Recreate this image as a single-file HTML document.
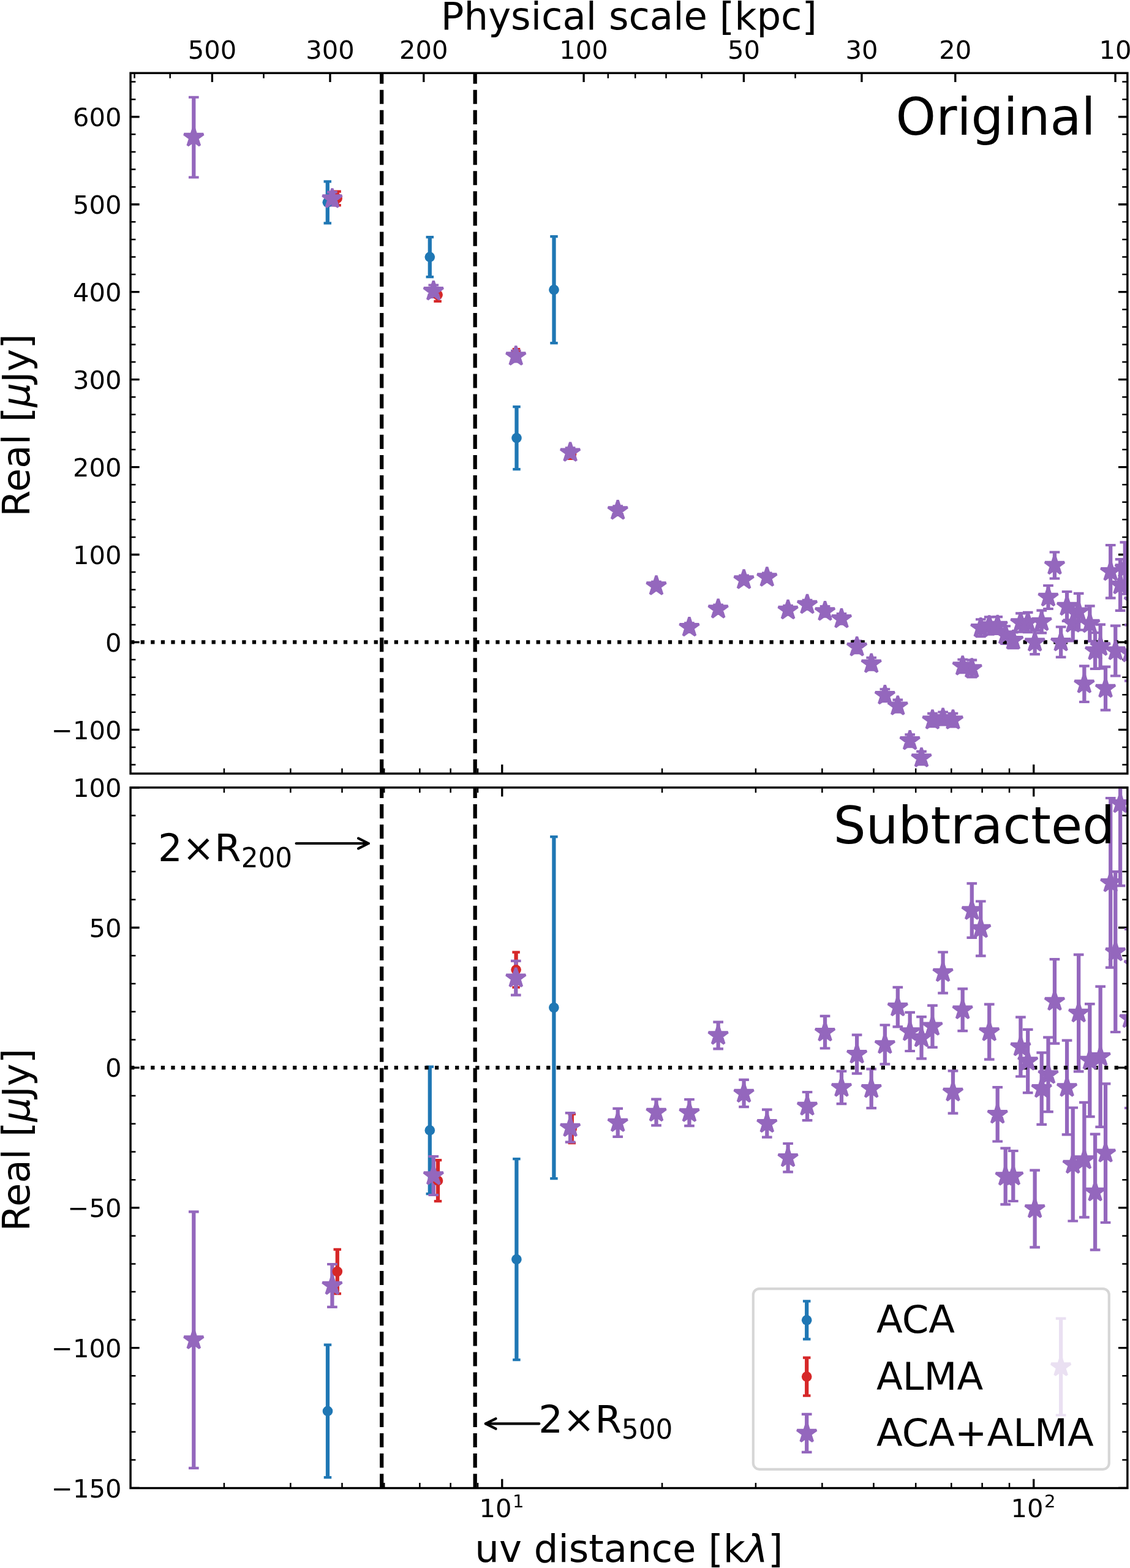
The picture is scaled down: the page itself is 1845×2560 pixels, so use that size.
<!DOCTYPE html>
<html><head><meta charset="utf-8"><title>uv distance plot</title>
<style>html,body{margin:0;padding:0;background:#fff}svg{display:block}text{font-family:"DejaVu Sans", "Liberation Sans", sans-serif;fill:#000}</style></head>
<body>
<svg width="1845" height="2560" viewBox="0 0 1845 2560">
<rect width="1845" height="2560" fill="#fff"/>
<defs><clipPath id="c1"><rect x="213.1" y="119.3" width="1627.5" height="1143.6"/></clipPath><clipPath id="c2"><rect x="213.1" y="1285.8" width="1627.5" height="1143.5"/></clipPath></defs>
<g>
<path d="M819.79 1262.9v-14.58M1687.76 1262.9v-14.58" stroke="#000" stroke-width="3.33" fill="none"/><path d="M365.94 1262.9v-8.33M474.39 1262.9v-8.33M558.5 1262.9v-8.33M627.23 1262.9v-8.33M685.34 1262.9v-8.33M735.67 1262.9v-8.33M780.07 1262.9v-8.33M1081.07 1262.9v-8.33M1233.91 1262.9v-8.33M1342.36 1262.9v-8.33M1426.47 1262.9v-8.33M1495.2 1262.9v-8.33M1553.31 1262.9v-8.33M1603.64 1262.9v-8.33M1648.04 1262.9v-8.33" stroke="#000" stroke-width="2.5" fill="none"/><path d="M346.41 119.3v14.58M538.97 119.3v14.58M691.81 119.3v14.58M953.1 119.3v14.58M1214.39 119.3v14.58M1406.94 119.3v14.58M1559.79 119.3v14.58M1821.07 119.3v14.58" stroke="#000" stroke-width="3.33" fill="none"/><path d="M219.58 119.3v8.33M277.69 119.3v8.33M430.53 119.3v8.33M992.82 119.3v8.33M1037.22 119.3v8.33M1087.55 119.3v8.33M1145.66 119.3v8.33M1298.5 119.3v8.33" stroke="#000" stroke-width="2.5" fill="none"/><path d="M213.1 1191.43h14.58M213.1 1048.48h14.58M213.1 905.53h14.58M213.1 762.58h14.58M213.1 619.62h14.58M213.1 476.68h14.58M213.1 333.73h14.58M213.1 190.78h14.58" stroke="#000" stroke-width="3.33" fill="none"/><path d="M213.1 1248.61h8.33M213.1 1220.02h8.33M213.1 1162.84h8.33M213.1 1134.25h8.33M213.1 1105.66h8.33M213.1 1077.07h8.33M213.1 1019.89h8.33M213.1 991.3h8.33M213.1 962.71h8.33M213.1 934.12h8.33M213.1 876.94h8.33M213.1 848.35h8.33M213.1 819.76h8.33M213.1 791.17h8.33M213.1 733.99h8.33M213.1 705.39h8.33M213.1 676.81h8.33M213.1 648.22h8.33M213.1 591.04h8.33M213.1 562.45h8.33M213.1 533.86h8.33M213.1 505.27h8.33M213.1 448.09h8.33M213.1 419.5h8.33M213.1 390.91h8.33M213.1 362.32h8.33M213.1 305.14h8.33M213.1 276.55h8.33M213.1 247.96h8.33M213.1 219.37h8.33M213.1 162.19h8.33M213.1 133.59h8.33" stroke="#000" stroke-width="2.5" fill="none"/><path d="M1840.6 1191.43h-14.58M1840.6 1048.48h-14.58M1840.6 905.53h-14.58M1840.6 762.58h-14.58M1840.6 619.62h-14.58M1840.6 476.68h-14.58M1840.6 333.73h-14.58M1840.6 190.78h-14.58" stroke="#000" stroke-width="3.33" fill="none"/><path d="M1840.6 1248.61h-8.33M1840.6 1220.02h-8.33M1840.6 1162.84h-8.33M1840.6 1134.25h-8.33M1840.6 1105.66h-8.33M1840.6 1077.07h-8.33M1840.6 1019.89h-8.33M1840.6 991.3h-8.33M1840.6 962.71h-8.33M1840.6 934.12h-8.33M1840.6 876.94h-8.33M1840.6 848.35h-8.33M1840.6 819.76h-8.33M1840.6 791.17h-8.33M1840.6 733.99h-8.33M1840.6 705.39h-8.33M1840.6 676.81h-8.33M1840.6 648.22h-8.33M1840.6 591.04h-8.33M1840.6 562.45h-8.33M1840.6 533.86h-8.33M1840.6 505.27h-8.33M1840.6 448.09h-8.33M1840.6 419.5h-8.33M1840.6 390.91h-8.33M1840.6 362.32h-8.33M1840.6 305.14h-8.33M1840.6 276.55h-8.33M1840.6 247.96h-8.33M1840.6 219.37h-8.33M1840.6 162.19h-8.33M1840.6 133.59h-8.33" stroke="#000" stroke-width="2.5" fill="none"/><path d="M819.79 2429.3v-14.58M1687.76 2429.3v-14.58" stroke="#000" stroke-width="3.33" fill="none"/><path d="M365.94 2429.3v-8.33M474.39 2429.3v-8.33M558.5 2429.3v-8.33M627.23 2429.3v-8.33M685.34 2429.3v-8.33M735.67 2429.3v-8.33M780.07 2429.3v-8.33M1081.07 2429.3v-8.33M1233.91 2429.3v-8.33M1342.36 2429.3v-8.33M1426.47 2429.3v-8.33M1495.2 2429.3v-8.33M1553.31 2429.3v-8.33M1603.64 2429.3v-8.33M1648.04 2429.3v-8.33" stroke="#000" stroke-width="2.5" fill="none"/><path d="M819.79 1285.8v14.58M1687.76 1285.8v14.58" stroke="#000" stroke-width="3.33" fill="none"/><path d="M365.94 1285.8v8.33M474.39 1285.8v8.33M558.5 1285.8v8.33M627.23 1285.8v8.33M685.34 1285.8v8.33M735.67 1285.8v8.33M780.07 1285.8v8.33M1081.07 1285.8v8.33M1233.91 1285.8v8.33M1342.36 1285.8v8.33M1426.47 1285.8v8.33M1495.2 1285.8v8.33M1553.31 1285.8v8.33M1603.64 1285.8v8.33M1648.04 1285.8v8.33" stroke="#000" stroke-width="2.5" fill="none"/><path d="M213.1 2429.3h14.58M213.1 2200.6h14.58M213.1 1971.9h14.58M213.1 1743.2h14.58M213.1 1514.5h14.58M213.1 1285.8h14.58" stroke="#000" stroke-width="3.33" fill="none"/><path d="M213.1 2383.56h8.33M213.1 2337.82h8.33M213.1 2292.08h8.33M213.1 2246.34h8.33M213.1 2154.86h8.33M213.1 2109.12h8.33M213.1 2063.38h8.33M213.1 2017.64h8.33M213.1 1926.16h8.33M213.1 1880.42h8.33M213.1 1834.68h8.33M213.1 1788.94h8.33M213.1 1697.46h8.33M213.1 1651.72h8.33M213.1 1605.98h8.33M213.1 1560.24h8.33M213.1 1468.76h8.33M213.1 1423.02h8.33M213.1 1377.28h8.33M213.1 1331.54h8.33" stroke="#000" stroke-width="2.5" fill="none"/><path d="M1840.6 2429.3h-14.58M1840.6 2200.6h-14.58M1840.6 1971.9h-14.58M1840.6 1743.2h-14.58M1840.6 1514.5h-14.58M1840.6 1285.8h-14.58" stroke="#000" stroke-width="3.33" fill="none"/><path d="M1840.6 2383.56h-8.33M1840.6 2337.82h-8.33M1840.6 2292.08h-8.33M1840.6 2246.34h-8.33M1840.6 2154.86h-8.33M1840.6 2109.12h-8.33M1840.6 2063.38h-8.33M1840.6 2017.64h-8.33M1840.6 1926.16h-8.33M1840.6 1880.42h-8.33M1840.6 1834.68h-8.33M1840.6 1788.94h-8.33M1840.6 1697.46h-8.33M1840.6 1651.72h-8.33M1840.6 1605.98h-8.33M1840.6 1560.24h-8.33M1840.6 1468.76h-8.33M1840.6 1423.02h-8.33M1840.6 1377.28h-8.33M1840.6 1331.54h-8.33" stroke="#000" stroke-width="2.5" fill="none"/>
</g>
<g clip-path="url(#c1)">
<path d="M534.8 296.3V364.3M701.8 387.1V452.1M843.5 664.1V766.1M904.5 386.2V560.2" stroke="#1f77b4" stroke-width="6.25" fill="none"/><path d="M528.55 296.3h12.5M528.55 364.3h12.5M695.55 387.1h12.5M695.55 452.1h12.5M837.25 664.1h12.5M837.25 766.1h12.5M898.25 386.2h12.5M898.25 560.2h12.5" stroke="#1f77b4" stroke-width="4.167" fill="none"/>
<path d="M550.6 312.6V335.2M714.6 470.8V491.8M843 570V588M933 733.8V748.8" stroke="#d62728" stroke-width="6.25" fill="none"/><path d="M544.35 312.6h12.5M544.35 335.2h12.5M708.35 470.8h12.5M708.35 491.8h12.5M836.75 570h12.5M836.75 588h12.5M926.75 733.8h12.5M926.75 748.8h12.5" stroke="#d62728" stroke-width="4.167" fill="none"/>
<path d="M316.3 158.72V289.48M542.4 313.59V335.41M707.8 465.46V485.14M842.3 572.88V590.32M931.1 731.26V746.14M1008.7 826.21V840.59M1071.53 949.91V963.29M1125.47 1017.45V1030.95M1172.65 987.69V1001.31M1214.58 939.69V953.51M1252.31 935.57V949.63M1286.6 988.85V1003.35M1318.03 979.88V994.32M1347.04 990.18V1006.62M1373.98 1001.96V1018.64M1399.12 1046.46V1066.14M1422.68 1073.73V1093.67M1444.86 1125.23V1145.17M1465.81 1142.64V1162.76M1485.66 1199.42V1219.17M1504.51 1226.84V1248.16M1522.46 1164.94V1186.26M1539.6 1162.46V1183.34M1555.99 1164.76V1186.44M1571.7 1076.75V1098.25M1586.78 1077.66V1105.34M1601.28 1011.26V1039.14M1615.24 1007.44V1035.56M1628.71 1007.19V1034.81M1641.71 1022.29V1050.91M1654.27 1032.49V1058.11M1666.43 1001.38V1031.62M1678.21 999.84V1032.16M1689.64 1028.84V1068.16M1700.73 996.69V1033.31M1711.5 956.03V993.97M1721.97 901.52V944.48M1732.16 1023.54V1072.86M1742.08 965.97V1014.03M1751.74 988.59V1046.41M1761.17 968.89V1028.51M1770.36 1087.39V1146.01M1779.34 989.35V1046.85M1788.1 1032.97V1092.03M1796.67 1019.69V1091.31M1805.05 1088.59V1159.41M1813.24 889.98V976.42M1821.26 1021.69V1103.51M1829.12 913.12V996.88M1836.81 885.41V969.79M1844.35 1020.38V1111.62" stroke="#9467bd" stroke-width="6.25" fill="none"/><path d="M307.97 158.72h16.67M307.97 289.48h16.67M534.07 313.59h16.67M534.07 335.41h16.67M699.47 465.46h16.67M699.47 485.14h16.67M833.97 572.88h16.67M833.97 590.32h16.67M922.77 731.26h16.67M922.77 746.14h16.67M1000.37 826.21h16.67M1000.37 840.59h16.67M1063.19 949.91h16.67M1063.19 963.29h16.67M1117.14 1017.45h16.67M1117.14 1030.95h16.67M1164.32 987.69h16.67M1164.32 1001.31h16.67M1206.25 939.69h16.67M1206.25 953.51h16.67M1243.97 935.57h16.67M1243.97 949.63h16.67M1278.26 988.85h16.67M1278.26 1003.35h16.67M1309.7 979.88h16.67M1309.7 994.32h16.67M1338.71 990.18h16.67M1338.71 1006.62h16.67M1365.64 1001.96h16.67M1365.64 1018.64h16.67M1390.78 1046.46h16.67M1390.78 1066.14h16.67M1414.35 1073.73h16.67M1414.35 1093.67h16.67M1436.53 1125.23h16.67M1436.53 1145.17h16.67M1457.48 1142.64h16.67M1457.48 1162.76h16.67M1477.32 1199.42h16.67M1477.32 1219.17h16.67M1496.17 1226.84h16.67M1496.17 1248.16h16.67M1514.13 1164.94h16.67M1514.13 1186.26h16.67M1531.26 1162.46h16.67M1531.26 1183.34h16.67M1547.66 1164.76h16.67M1547.66 1186.44h16.67M1563.37 1076.75h16.67M1563.37 1098.25h16.67M1578.45 1077.66h16.67M1578.45 1105.34h16.67M1592.95 1011.26h16.67M1592.95 1039.14h16.67M1606.91 1007.44h16.67M1606.91 1035.56h16.67M1620.37 1007.19h16.67M1620.37 1034.81h16.67M1633.37 1022.29h16.67M1633.37 1050.91h16.67M1645.94 1032.49h16.67M1645.94 1058.11h16.67M1658.1 1001.38h16.67M1658.1 1031.62h16.67M1669.88 999.84h16.67M1669.88 1032.16h16.67M1681.3 1028.84h16.67M1681.3 1068.16h16.67M1692.39 996.69h16.67M1692.39 1033.31h16.67M1703.16 956.03h16.67M1703.16 993.97h16.67M1713.63 901.52h16.67M1713.63 944.48h16.67M1723.82 1023.54h16.67M1723.82 1072.86h16.67M1733.74 965.97h16.67M1733.74 1014.03h16.67M1743.41 988.59h16.67M1743.41 1046.41h16.67M1752.83 968.89h16.67M1752.83 1028.51h16.67M1762.03 1087.39h16.67M1762.03 1146.01h16.67M1771 989.35h16.67M1771 1046.85h16.67M1779.77 1032.97h16.67M1779.77 1092.03h16.67M1788.34 1019.69h16.67M1788.34 1091.31h16.67M1796.72 1088.59h16.67M1796.72 1159.41h16.67M1804.91 889.98h16.67M1804.91 976.42h16.67M1812.93 1021.69h16.67M1812.93 1103.51h16.67M1820.78 913.12h16.67M1820.78 996.88h16.67M1828.48 885.41h16.67M1828.48 969.79h16.67M1836.02 1020.38h16.67M1836.02 1111.62h16.67" stroke="#9467bd" stroke-width="4.167" fill="none"/>
<path d="M213.1 1048.48H1840.6" stroke="#000" stroke-width="6.25" stroke-dasharray="6.25 10.3125" fill="none"/>
<path d="M623.2 1262.9V119.3" stroke="#000" stroke-width="6.25" stroke-dasharray="23.125 10" fill="none"/>
<path d="M775.7 1262.9V119.3" stroke="#000" stroke-width="6.25" stroke-dasharray="23.125 10" fill="none"/>
<circle cx="534.8" cy="330.3" r="8.33" fill="#1f77b4"/><circle cx="701.8" cy="419.6" r="8.33" fill="#1f77b4"/><circle cx="843.5" cy="715.1" r="8.33" fill="#1f77b4"/><circle cx="904.5" cy="473.2" r="8.33" fill="#1f77b4"/>
<circle cx="550.6" cy="323.9" r="8.33" fill="#d62728"/><circle cx="714.6" cy="481.3" r="8.33" fill="#d62728"/><circle cx="843" cy="579" r="8.33" fill="#d62728"/><circle cx="933" cy="741.3" r="8.33" fill="#d62728"/>
<path d="M316.3 207.43 L312.56 218.95 L300.45 218.95 L310.25 226.07 L306.5 237.58 L316.3 230.47 L326.1 237.58 L322.35 226.07 L332.15 218.95 L320.04 218.95ZM542.4 307.83 L538.66 319.35 L526.55 319.35 L536.35 326.47 L532.6 337.98 L542.4 330.87 L552.2 337.98 L548.45 326.47 L558.25 319.35 L546.14 319.35ZM707.8 458.63 L704.06 470.15 L691.95 470.15 L701.75 477.27 L698 488.78 L707.8 481.67 L717.6 488.78 L713.85 477.27 L723.65 470.15 L711.54 470.15ZM842.3 564.93 L838.56 576.45 L826.45 576.45 L836.25 583.57 L832.5 595.08 L842.3 587.97 L852.1 595.08 L848.35 583.57 L858.15 576.45 L846.04 576.45ZM931.1 722.03 L927.36 733.55 L915.25 733.55 L925.05 740.67 L921.3 752.18 L931.1 745.07 L940.9 752.18 L937.15 740.67 L946.95 733.55 L934.84 733.55ZM1008.7 816.73 L1004.96 828.25 L992.85 828.25 L1002.65 835.37 L998.9 846.88 L1008.7 839.77 L1018.5 846.88 L1014.75 835.37 L1024.55 828.25 L1012.44 828.25ZM1071.53 939.93 L1067.79 951.45 L1055.68 951.45 L1065.47 958.57 L1061.73 970.08 L1071.53 962.97 L1081.32 970.08 L1077.58 958.57 L1087.38 951.45 L1075.27 951.45ZM1125.47 1007.53 L1121.73 1019.05 L1109.62 1019.05 L1119.42 1026.17 L1115.67 1037.68 L1125.47 1030.57 L1135.27 1037.68 L1131.53 1026.17 L1141.32 1019.05 L1129.21 1019.05ZM1172.65 977.83 L1168.91 989.35 L1156.8 989.35 L1166.6 996.47 L1162.85 1007.98 L1172.65 1000.87 L1182.45 1007.98 L1178.71 996.47 L1188.5 989.35 L1176.39 989.35ZM1214.58 929.93 L1210.84 941.45 L1198.73 941.45 L1208.52 948.57 L1204.78 960.08 L1214.58 952.97 L1224.38 960.08 L1220.63 948.57 L1230.43 941.45 L1218.32 941.45ZM1252.31 925.93 L1248.56 937.45 L1236.45 937.45 L1246.25 944.57 L1242.51 956.08 L1252.31 948.97 L1262.1 956.08 L1258.36 944.57 L1268.16 937.45 L1256.05 937.45ZM1286.6 979.43 L1282.86 990.95 L1270.75 990.95 L1280.54 998.07 L1276.8 1009.58 L1286.6 1002.47 L1296.39 1009.58 L1292.65 998.07 L1302.45 990.95 L1290.34 990.95ZM1318.03 970.43 L1314.29 981.95 L1302.18 981.95 L1311.97 989.07 L1308.23 1000.58 L1318.03 993.47 L1327.83 1000.58 L1324.08 989.07 L1333.88 981.95 L1321.77 981.95ZM1347.04 981.73 L1343.3 993.25 L1331.19 993.25 L1340.99 1000.37 L1337.24 1011.88 L1347.04 1004.77 L1356.84 1011.88 L1353.09 1000.37 L1362.89 993.25 L1350.78 993.25ZM1373.98 993.63 L1370.23 1005.15 L1358.13 1005.15 L1367.92 1012.27 L1364.18 1023.78 L1373.98 1016.67 L1383.77 1023.78 L1380.03 1012.27 L1389.83 1005.15 L1377.72 1005.15ZM1399.12 1039.63 L1395.37 1051.15 L1383.27 1051.15 L1393.06 1058.27 L1389.32 1069.78 L1399.12 1062.67 L1408.91 1069.78 L1405.17 1058.27 L1414.97 1051.15 L1402.86 1051.15ZM1422.68 1067.03 L1418.94 1078.55 L1406.83 1078.55 L1416.63 1085.67 L1412.89 1097.18 L1422.68 1090.07 L1432.48 1097.18 L1428.74 1085.67 L1438.54 1078.55 L1426.43 1078.55ZM1444.86 1118.53 L1441.12 1130.05 L1429.01 1130.05 L1438.81 1137.17 L1435.07 1148.68 L1444.86 1141.57 L1454.66 1148.68 L1450.92 1137.17 L1460.72 1130.05 L1448.61 1130.05ZM1465.81 1136.03 L1462.07 1147.55 L1449.96 1147.55 L1459.76 1154.67 L1456.01 1166.18 L1465.81 1159.07 L1475.61 1166.18 L1471.87 1154.67 L1481.66 1147.55 L1469.55 1147.55ZM1485.66 1192.63 L1481.91 1204.15 L1469.8 1204.15 L1479.6 1211.27 L1475.86 1222.78 L1485.66 1215.67 L1495.45 1222.78 L1491.71 1211.27 L1501.51 1204.15 L1489.4 1204.15ZM1504.51 1220.83 L1500.77 1232.35 L1488.66 1232.35 L1498.45 1239.47 L1494.71 1250.98 L1504.51 1243.87 L1514.3 1250.98 L1510.56 1239.47 L1520.36 1232.35 L1508.25 1232.35ZM1522.46 1158.93 L1518.72 1170.45 L1506.61 1170.45 L1516.41 1177.57 L1512.66 1189.08 L1522.46 1181.97 L1532.26 1189.08 L1528.52 1177.57 L1538.31 1170.45 L1526.2 1170.45ZM1539.6 1156.23 L1535.86 1167.75 L1523.75 1167.75 L1533.54 1174.87 L1529.8 1186.38 L1539.6 1179.27 L1549.39 1186.38 L1545.65 1174.87 L1555.45 1167.75 L1543.34 1167.75ZM1555.99 1158.93 L1552.25 1170.45 L1540.14 1170.45 L1549.94 1177.57 L1546.19 1189.08 L1555.99 1181.97 L1565.79 1189.08 L1562.04 1177.57 L1571.84 1170.45 L1559.73 1170.45ZM1571.7 1070.83 L1567.96 1082.35 L1555.85 1082.35 L1565.64 1089.47 L1561.9 1100.98 L1571.7 1093.87 L1581.5 1100.98 L1577.75 1089.47 L1587.55 1082.35 L1575.44 1082.35ZM1586.78 1074.83 L1583.04 1086.35 L1570.93 1086.35 L1580.72 1093.47 L1576.98 1104.98 L1586.78 1097.87 L1596.58 1104.98 L1592.83 1093.47 L1602.63 1086.35 L1590.52 1086.35ZM1601.28 1008.53 L1597.54 1020.05 L1585.43 1020.05 L1595.22 1027.17 L1591.48 1038.68 L1601.28 1031.57 L1611.08 1038.68 L1607.33 1027.17 L1617.13 1020.05 L1605.02 1020.05ZM1615.24 1004.83 L1611.5 1016.35 L1599.39 1016.35 L1609.19 1023.47 L1605.45 1034.98 L1615.24 1027.87 L1625.04 1034.98 L1621.3 1023.47 L1631.09 1016.35 L1618.98 1016.35ZM1628.71 1004.33 L1624.96 1015.85 L1612.86 1015.85 L1622.65 1022.97 L1618.91 1034.48 L1628.71 1027.37 L1638.5 1034.48 L1634.76 1022.97 L1644.56 1015.85 L1632.45 1015.85ZM1641.71 1019.93 L1637.96 1031.45 L1625.85 1031.45 L1635.65 1038.57 L1631.91 1050.08 L1641.71 1042.97 L1651.5 1050.08 L1647.76 1038.57 L1657.56 1031.45 L1645.45 1031.45ZM1654.27 1028.63 L1650.53 1040.15 L1638.42 1040.15 L1648.22 1047.27 L1644.48 1058.78 L1654.27 1051.67 L1664.07 1058.78 L1660.33 1047.27 L1670.12 1040.15 L1658.01 1040.15ZM1666.43 999.83 L1662.69 1011.35 L1650.58 1011.35 L1660.38 1018.47 L1656.64 1029.98 L1666.43 1022.87 L1676.23 1029.98 L1672.49 1018.47 L1682.28 1011.35 L1670.18 1011.35ZM1678.21 999.33 L1674.47 1010.85 L1662.36 1010.85 L1672.16 1017.97 L1668.42 1029.48 L1678.21 1022.37 L1688.01 1029.48 L1684.27 1017.97 L1694.07 1010.85 L1681.96 1010.85ZM1689.64 1031.83 L1685.9 1043.35 L1673.79 1043.35 L1683.58 1050.47 L1679.84 1061.98 L1689.64 1054.87 L1699.43 1061.98 L1695.69 1050.47 L1705.49 1043.35 L1693.38 1043.35ZM1700.73 998.33 L1696.98 1009.85 L1684.87 1009.85 L1694.67 1016.97 L1690.93 1028.48 L1700.73 1021.37 L1710.52 1028.48 L1706.78 1016.97 L1716.58 1009.85 L1704.47 1009.85ZM1711.5 958.33 L1707.75 969.85 L1695.65 969.85 L1705.44 976.97 L1701.7 988.48 L1711.5 981.37 L1721.29 988.48 L1717.55 976.97 L1727.35 969.85 L1715.24 969.85ZM1721.97 906.33 L1718.23 917.85 L1706.12 917.85 L1715.91 924.97 L1712.17 936.48 L1721.97 929.37 L1731.76 936.48 L1728.02 924.97 L1737.82 917.85 L1725.71 917.85ZM1732.16 1031.53 L1728.41 1043.05 L1716.31 1043.05 L1726.1 1050.17 L1722.36 1061.68 L1732.16 1054.57 L1741.95 1061.68 L1738.21 1050.17 L1748.01 1043.05 L1735.9 1043.05ZM1742.08 973.33 L1738.34 984.85 L1726.23 984.85 L1736.02 991.97 L1732.28 1003.48 L1742.08 996.37 L1751.87 1003.48 L1748.13 991.97 L1757.93 984.85 L1745.82 984.85ZM1751.74 1000.83 L1748 1012.35 L1735.89 1012.35 L1745.69 1019.47 L1741.95 1030.98 L1751.74 1023.87 L1761.54 1030.98 L1757.8 1019.47 L1767.59 1012.35 L1755.49 1012.35ZM1761.17 982.03 L1757.43 993.55 L1745.32 993.55 L1755.11 1000.67 L1751.37 1012.18 L1761.17 1005.07 L1770.96 1012.18 L1767.22 1000.67 L1777.02 993.55 L1764.91 993.55ZM1770.36 1100.03 L1766.62 1111.55 L1754.51 1111.55 L1764.31 1118.67 L1760.57 1130.18 L1770.36 1123.07 L1780.16 1130.18 L1776.42 1118.67 L1786.21 1111.55 L1774.1 1111.55ZM1779.34 1001.43 L1775.6 1012.95 L1763.49 1012.95 L1773.28 1020.07 L1769.54 1031.58 L1779.34 1024.47 L1789.13 1031.58 L1785.39 1020.07 L1795.19 1012.95 L1783.08 1012.95ZM1788.1 1045.83 L1784.36 1057.35 L1772.25 1057.35 L1782.05 1064.47 L1778.31 1075.98 L1788.1 1068.87 L1797.9 1075.98 L1794.16 1064.47 L1803.96 1057.35 L1791.85 1057.35ZM1796.67 1038.83 L1792.93 1050.35 L1780.82 1050.35 L1790.62 1057.47 L1786.88 1068.98 L1796.67 1061.87 L1806.47 1068.98 L1802.73 1057.47 L1812.52 1050.35 L1800.41 1050.35ZM1805.05 1107.33 L1801.31 1118.85 L1789.2 1118.85 L1798.99 1125.97 L1795.25 1137.48 L1805.05 1130.37 L1814.85 1137.48 L1811.1 1125.97 L1820.9 1118.85 L1808.79 1118.85ZM1813.24 916.53 L1809.5 928.05 L1797.39 928.05 L1807.19 935.17 L1803.45 946.68 L1813.24 939.57 L1823.04 946.68 L1819.3 935.17 L1829.1 928.05 L1816.99 928.05ZM1821.26 1045.93 L1817.52 1057.45 L1805.41 1057.45 L1815.21 1064.57 L1811.47 1076.08 L1821.26 1068.97 L1831.06 1076.08 L1827.32 1064.57 L1837.12 1057.45 L1825.01 1057.45ZM1829.12 938.33 L1825.38 949.85 L1813.27 949.85 L1823.06 956.97 L1819.32 968.48 L1829.12 961.37 L1838.91 968.48 L1835.17 956.97 L1844.97 949.85 L1832.86 949.85ZM1836.81 910.93 L1833.07 922.45 L1820.96 922.45 L1830.76 929.57 L1827.01 941.08 L1836.81 933.97 L1846.61 941.08 L1842.87 929.57 L1852.66 922.45 L1840.55 922.45ZM1844.35 1049.33 L1840.61 1060.85 L1828.5 1060.85 L1838.3 1067.97 L1834.55 1079.48 L1844.35 1072.37 L1854.15 1079.48 L1850.41 1067.97 L1860.2 1060.85 L1848.09 1060.85ZM1851.74 964.33 L1848 975.85 L1835.89 975.85 L1845.69 982.97 L1841.95 994.48 L1851.74 987.37 L1861.54 994.48 L1857.8 982.97 L1867.59 975.85 L1855.48 975.85Z" fill="#9467bd" stroke="#9467bd" stroke-width="4.167" stroke-linejoin="bevel"/>
</g>
<g clip-path="url(#c2)">
<path d="M535 2195.6V2412.2M701.8 1741.7V1949.1M843.4 1892.1V2220.1M904.4 1366.1V1924.1" stroke="#1f77b4" stroke-width="6.25" fill="none"/><path d="M528.75 2195.6h12.5M528.75 2412.2h12.5M695.55 1741.7h12.5M695.55 1949.1h12.5M837.15 1892.1h12.5M837.15 2220.1h12.5M898.15 1366.1h12.5M898.15 1924.1h12.5" stroke="#1f77b4" stroke-width="4.167" fill="none"/>
<path d="M550.8 2039.9V2112.1M715 1894.2V1961.2M842.6 1554.6V1612M933.8 1819V1866.2" stroke="#d62728" stroke-width="6.25" fill="none"/><path d="M544.55 2039.9h12.5M544.55 2112.1h12.5M708.75 1894.2h12.5M708.75 1961.2h12.5M836.35 1554.6h12.5M836.35 1612h12.5M927.55 1819h12.5M927.55 1866.2h12.5" stroke="#d62728" stroke-width="4.167" fill="none"/>
<path d="M316.3 1978.4V2396.8M542.4 2064V2133.8M707.8 1888V1951M842.3 1568.9V1624.7M931.1 1817.1V1864.7M1008.7 1809.9V1855.9M1071.53 1794.6V1837.4M1125.47 1795V1838.2M1172.65 1668.7V1712.3M1214.58 1762.9V1807.1M1252.31 1811.7V1856.7M1286.6 1867V1913.4M1318.03 1783V1829.2M1347.04 1658.9V1711.5M1373.98 1748.8V1802.2M1399.12 1689.7V1752.7M1422.68 1745.4V1809.2M1444.86 1673.5V1737.3M1465.81 1611.9V1676.3M1485.66 1652.8V1716M1504.51 1660.2V1728.4M1522.46 1641.6V1709.8M1539.6 1554.5V1621.3M1555.99 1748.3V1817.7M1571.7 1614.4V1683.2M1586.78 1442.3V1530.9M1601.28 1471.5V1560.7M1615.24 1639.6V1729.6M1628.71 1775.1V1863.5M1641.71 1874.7V1966.3M1654.27 1879V1961M1666.43 1660.7V1757.5M1678.21 1680.8V1784.2M1689.64 1910.6V2036.4M1700.73 1718.6V1835.8M1711.5 1693.7V1815.1M1721.97 1566.15V1703.65M1732.16 2152.7V2310.5M1742.08 1698.6V1852.4M1751.74 1808.5V1993.5M1761.17 1558.6V1749.4M1770.36 1799.8V1987.4M1779.34 1639.1V1823.1M1788.1 1851.6V2040.6M1796.67 1610.7V1839.9M1805.05 1769.4V1996M1813.24 1303V1579.6M1821.26 1423.2V1685M1829.12 1178.2V1446.2M1844.35 1517V1809" stroke="#9467bd" stroke-width="6.25" fill="none"/><path d="M307.97 1978.4h16.67M307.97 2396.8h16.67M534.07 2064h16.67M534.07 2133.8h16.67M699.47 1888h16.67M699.47 1951h16.67M833.97 1568.9h16.67M833.97 1624.7h16.67M922.77 1817.1h16.67M922.77 1864.7h16.67M1000.37 1809.9h16.67M1000.37 1855.9h16.67M1063.19 1794.6h16.67M1063.19 1837.4h16.67M1117.14 1795h16.67M1117.14 1838.2h16.67M1164.32 1668.7h16.67M1164.32 1712.3h16.67M1206.25 1762.9h16.67M1206.25 1807.1h16.67M1243.97 1811.7h16.67M1243.97 1856.7h16.67M1278.26 1867h16.67M1278.26 1913.4h16.67M1309.7 1783h16.67M1309.7 1829.2h16.67M1338.71 1658.9h16.67M1338.71 1711.5h16.67M1365.64 1748.8h16.67M1365.64 1802.2h16.67M1390.78 1689.7h16.67M1390.78 1752.7h16.67M1414.35 1745.4h16.67M1414.35 1809.2h16.67M1436.53 1673.5h16.67M1436.53 1737.3h16.67M1457.48 1611.9h16.67M1457.48 1676.3h16.67M1477.32 1652.8h16.67M1477.32 1716h16.67M1496.17 1660.2h16.67M1496.17 1728.4h16.67M1514.13 1641.6h16.67M1514.13 1709.8h16.67M1531.26 1554.5h16.67M1531.26 1621.3h16.67M1547.66 1748.3h16.67M1547.66 1817.7h16.67M1563.37 1614.4h16.67M1563.37 1683.2h16.67M1578.45 1442.3h16.67M1578.45 1530.9h16.67M1592.95 1471.5h16.67M1592.95 1560.7h16.67M1606.91 1639.6h16.67M1606.91 1729.6h16.67M1620.37 1775.1h16.67M1620.37 1863.5h16.67M1633.37 1874.7h16.67M1633.37 1966.3h16.67M1645.94 1879h16.67M1645.94 1961h16.67M1658.1 1660.7h16.67M1658.1 1757.5h16.67M1669.88 1680.8h16.67M1669.88 1784.2h16.67M1681.3 1910.6h16.67M1681.3 2036.4h16.67M1692.39 1718.6h16.67M1692.39 1835.8h16.67M1703.16 1693.7h16.67M1703.16 1815.1h16.67M1713.63 1566.15h16.67M1713.63 1703.65h16.67M1723.82 2152.7h16.67M1723.82 2310.5h16.67M1733.74 1698.6h16.67M1733.74 1852.4h16.67M1743.41 1808.5h16.67M1743.41 1993.5h16.67M1752.83 1558.6h16.67M1752.83 1749.4h16.67M1762.03 1799.8h16.67M1762.03 1987.4h16.67M1771 1639.1h16.67M1771 1823.1h16.67M1779.77 1851.6h16.67M1779.77 2040.6h16.67M1788.34 1610.7h16.67M1788.34 1839.9h16.67M1796.72 1769.4h16.67M1796.72 1996h16.67M1804.91 1303h16.67M1804.91 1579.6h16.67M1812.93 1423.2h16.67M1812.93 1685h16.67M1820.78 1178.2h16.67M1820.78 1446.2h16.67M1836.02 1517h16.67M1836.02 1809h16.67" stroke="#9467bd" stroke-width="4.167" fill="none"/>
<path d="M213.1 1743.2H1840.6" stroke="#000" stroke-width="6.25" stroke-dasharray="6.25 10.3125" fill="none"/>
<path d="M623.2 2429.3V1285.8" stroke="#000" stroke-width="6.25" stroke-dasharray="23.125 10" fill="none"/>
<path d="M775.7 2429.3V1285.8" stroke="#000" stroke-width="6.25" stroke-dasharray="23.125 10" fill="none"/>
<circle cx="535" cy="2303.9" r="8.33" fill="#1f77b4"/><circle cx="701.8" cy="1845.4" r="8.33" fill="#1f77b4"/><circle cx="843.4" cy="2056.1" r="8.33" fill="#1f77b4"/><circle cx="904.4" cy="1645.1" r="8.33" fill="#1f77b4"/>
<circle cx="550.8" cy="2076" r="8.33" fill="#d62728"/><circle cx="715" cy="1927.7" r="8.33" fill="#d62728"/><circle cx="842.6" cy="1583.3" r="8.33" fill="#d62728"/><circle cx="933.8" cy="1842.6" r="8.33" fill="#d62728"/>
<path d="M316.3 2170.93 L312.56 2182.45 L300.45 2182.45 L310.25 2189.57 L306.5 2201.08 L316.3 2193.97 L326.1 2201.08 L322.35 2189.57 L332.15 2182.45 L320.04 2182.45ZM542.4 2082.23 L538.66 2093.75 L526.55 2093.75 L536.35 2100.87 L532.6 2112.38 L542.4 2105.27 L552.2 2112.38 L548.45 2100.87 L558.25 2093.75 L546.14 2093.75ZM707.8 1902.83 L704.06 1914.35 L691.95 1914.35 L701.75 1921.47 L698 1932.98 L707.8 1925.87 L717.6 1932.98 L713.85 1921.47 L723.65 1914.35 L711.54 1914.35ZM842.3 1580.13 L838.56 1591.65 L826.45 1591.65 L836.25 1598.77 L832.5 1610.28 L842.3 1603.17 L852.1 1610.28 L848.35 1598.77 L858.15 1591.65 L846.04 1591.65ZM931.1 1824.23 L927.36 1835.75 L915.25 1835.75 L925.05 1842.87 L921.3 1854.38 L931.1 1847.27 L940.9 1854.38 L937.15 1842.87 L946.95 1835.75 L934.84 1835.75ZM1008.7 1816.23 L1004.96 1827.75 L992.85 1827.75 L1002.65 1834.87 L998.9 1846.38 L1008.7 1839.27 L1018.5 1846.38 L1014.75 1834.87 L1024.55 1827.75 L1012.44 1827.75ZM1071.53 1799.33 L1067.79 1810.85 L1055.68 1810.85 L1065.47 1817.97 L1061.73 1829.48 L1071.53 1822.37 L1081.32 1829.48 L1077.58 1817.97 L1087.38 1810.85 L1075.27 1810.85ZM1125.47 1799.93 L1121.73 1811.45 L1109.62 1811.45 L1119.42 1818.57 L1115.67 1830.08 L1125.47 1822.97 L1135.27 1830.08 L1131.53 1818.57 L1141.32 1811.45 L1129.21 1811.45ZM1172.65 1673.83 L1168.91 1685.35 L1156.8 1685.35 L1166.6 1692.47 L1162.85 1703.98 L1172.65 1696.87 L1182.45 1703.98 L1178.71 1692.47 L1188.5 1685.35 L1176.39 1685.35ZM1214.58 1768.33 L1210.84 1779.85 L1198.73 1779.85 L1208.52 1786.97 L1204.78 1798.48 L1214.58 1791.37 L1224.38 1798.48 L1220.63 1786.97 L1230.43 1779.85 L1218.32 1779.85ZM1252.31 1817.53 L1248.56 1829.05 L1236.45 1829.05 L1246.25 1836.17 L1242.51 1847.68 L1252.31 1840.57 L1262.1 1847.68 L1258.36 1836.17 L1268.16 1829.05 L1256.05 1829.05ZM1286.6 1873.53 L1282.86 1885.05 L1270.75 1885.05 L1280.54 1892.17 L1276.8 1903.68 L1286.6 1896.57 L1296.39 1903.68 L1292.65 1892.17 L1302.45 1885.05 L1290.34 1885.05ZM1318.03 1789.43 L1314.29 1800.95 L1302.18 1800.95 L1311.97 1808.07 L1308.23 1819.58 L1318.03 1812.47 L1327.83 1819.58 L1324.08 1808.07 L1333.88 1800.95 L1321.77 1800.95ZM1347.04 1668.53 L1343.3 1680.05 L1331.19 1680.05 L1340.99 1687.17 L1337.24 1698.68 L1347.04 1691.57 L1356.84 1698.68 L1353.09 1687.17 L1362.89 1680.05 L1350.78 1680.05ZM1373.98 1758.83 L1370.23 1770.35 L1358.13 1770.35 L1367.92 1777.47 L1364.18 1788.98 L1373.98 1781.87 L1383.77 1788.98 L1380.03 1777.47 L1389.83 1770.35 L1377.72 1770.35ZM1399.12 1704.53 L1395.37 1716.05 L1383.27 1716.05 L1393.06 1723.17 L1389.32 1734.68 L1399.12 1727.57 L1408.91 1734.68 L1405.17 1723.17 L1414.97 1716.05 L1402.86 1716.05ZM1422.68 1760.63 L1418.94 1772.15 L1406.83 1772.15 L1416.63 1779.27 L1412.89 1790.78 L1422.68 1783.67 L1432.48 1790.78 L1428.74 1779.27 L1438.54 1772.15 L1426.43 1772.15ZM1444.86 1688.73 L1441.12 1700.25 L1429.01 1700.25 L1438.81 1707.37 L1435.07 1718.88 L1444.86 1711.77 L1454.66 1718.88 L1450.92 1707.37 L1460.72 1700.25 L1448.61 1700.25ZM1465.81 1627.43 L1462.07 1638.95 L1449.96 1638.95 L1459.76 1646.07 L1456.01 1657.58 L1465.81 1650.47 L1475.61 1657.58 L1471.87 1646.07 L1481.66 1638.95 L1469.55 1638.95ZM1485.66 1667.73 L1481.91 1679.25 L1469.8 1679.25 L1479.6 1686.37 L1475.86 1697.88 L1485.66 1690.77 L1495.45 1697.88 L1491.71 1686.37 L1501.51 1679.25 L1489.4 1679.25ZM1504.51 1677.63 L1500.77 1689.15 L1488.66 1689.15 L1498.45 1696.27 L1494.71 1707.78 L1504.51 1700.67 L1514.3 1707.78 L1510.56 1696.27 L1520.36 1689.15 L1508.25 1689.15ZM1522.46 1659.03 L1518.72 1670.55 L1506.61 1670.55 L1516.41 1677.67 L1512.66 1689.18 L1522.46 1682.07 L1532.26 1689.18 L1528.52 1677.67 L1538.31 1670.55 L1526.2 1670.55ZM1539.6 1571.23 L1535.86 1582.75 L1523.75 1582.75 L1533.54 1589.87 L1529.8 1601.38 L1539.6 1594.27 L1549.39 1601.38 L1545.65 1589.87 L1555.45 1582.75 L1543.34 1582.75ZM1555.99 1766.33 L1552.25 1777.85 L1540.14 1777.85 L1549.94 1784.97 L1546.19 1796.48 L1555.99 1789.37 L1565.79 1796.48 L1562.04 1784.97 L1571.84 1777.85 L1559.73 1777.85ZM1571.7 1632.13 L1567.96 1643.65 L1555.85 1643.65 L1565.64 1650.77 L1561.9 1662.28 L1571.7 1655.17 L1581.5 1662.28 L1577.75 1650.77 L1587.55 1643.65 L1575.44 1643.65ZM1586.78 1469.93 L1583.04 1481.45 L1570.93 1481.45 L1580.72 1488.57 L1576.98 1500.08 L1586.78 1492.97 L1596.58 1500.08 L1592.83 1488.57 L1602.63 1481.45 L1590.52 1481.45ZM1601.28 1499.43 L1597.54 1510.95 L1585.43 1510.95 L1595.22 1518.07 L1591.48 1529.58 L1601.28 1522.47 L1611.08 1529.58 L1607.33 1518.07 L1617.13 1510.95 L1605.02 1510.95ZM1615.24 1667.93 L1611.5 1679.45 L1599.39 1679.45 L1609.19 1686.57 L1605.45 1698.08 L1615.24 1690.97 L1625.04 1698.08 L1621.3 1686.57 L1631.09 1679.45 L1618.98 1679.45ZM1628.71 1802.63 L1624.96 1814.15 L1612.86 1814.15 L1622.65 1821.27 L1618.91 1832.78 L1628.71 1825.67 L1638.5 1832.78 L1634.76 1821.27 L1644.56 1814.15 L1632.45 1814.15ZM1641.71 1903.83 L1637.96 1915.35 L1625.85 1915.35 L1635.65 1922.47 L1631.91 1933.98 L1641.71 1926.87 L1651.5 1933.98 L1647.76 1922.47 L1657.56 1915.35 L1645.45 1915.35ZM1654.27 1903.33 L1650.53 1914.85 L1638.42 1914.85 L1648.22 1921.97 L1644.48 1933.48 L1654.27 1926.37 L1664.07 1933.48 L1660.33 1921.97 L1670.12 1914.85 L1658.01 1914.85ZM1666.43 1692.43 L1662.69 1703.95 L1650.58 1703.95 L1660.38 1711.07 L1656.64 1722.58 L1666.43 1715.47 L1676.23 1722.58 L1672.49 1711.07 L1682.28 1703.95 L1670.18 1703.95ZM1678.21 1715.83 L1674.47 1727.35 L1662.36 1727.35 L1672.16 1734.47 L1668.42 1745.98 L1678.21 1738.87 L1688.01 1745.98 L1684.27 1734.47 L1694.07 1727.35 L1681.96 1727.35ZM1689.64 1956.83 L1685.9 1968.35 L1673.79 1968.35 L1683.58 1975.47 L1679.84 1986.98 L1689.64 1979.87 L1699.43 1986.98 L1695.69 1975.47 L1705.49 1968.35 L1693.38 1968.35ZM1700.73 1760.53 L1696.98 1772.05 L1684.87 1772.05 L1694.67 1779.17 L1690.93 1790.68 L1700.73 1783.57 L1710.52 1790.68 L1706.78 1779.17 L1716.58 1772.05 L1704.47 1772.05ZM1711.5 1737.73 L1707.75 1749.25 L1695.65 1749.25 L1705.44 1756.37 L1701.7 1767.88 L1711.5 1760.77 L1721.29 1767.88 L1717.55 1756.37 L1727.35 1749.25 L1715.24 1749.25ZM1721.97 1618.23 L1718.23 1629.75 L1706.12 1629.75 L1715.91 1636.87 L1712.17 1648.38 L1721.97 1641.27 L1731.76 1648.38 L1728.02 1636.87 L1737.82 1629.75 L1725.71 1629.75ZM1732.16 2214.93 L1728.41 2226.45 L1716.31 2226.45 L1726.1 2233.57 L1722.36 2245.08 L1732.16 2237.97 L1741.95 2245.08 L1738.21 2233.57 L1748.01 2226.45 L1735.9 2226.45ZM1742.08 1758.83 L1738.34 1770.35 L1726.23 1770.35 L1736.02 1777.47 L1732.28 1788.98 L1742.08 1781.87 L1751.87 1788.98 L1748.13 1777.47 L1757.93 1770.35 L1745.82 1770.35ZM1751.74 1884.33 L1748 1895.85 L1735.89 1895.85 L1745.69 1902.97 L1741.95 1914.48 L1751.74 1907.37 L1761.54 1914.48 L1757.8 1902.97 L1767.59 1895.85 L1755.49 1895.85ZM1761.17 1637.33 L1757.43 1648.85 L1745.32 1648.85 L1755.11 1655.97 L1751.37 1667.48 L1761.17 1660.37 L1770.96 1667.48 L1767.22 1655.97 L1777.02 1648.85 L1764.91 1648.85ZM1770.36 1876.93 L1766.62 1888.45 L1754.51 1888.45 L1764.31 1895.57 L1760.57 1907.08 L1770.36 1899.97 L1780.16 1907.08 L1776.42 1895.57 L1786.21 1888.45 L1774.1 1888.45ZM1779.34 1714.43 L1775.6 1725.95 L1763.49 1725.95 L1773.28 1733.07 L1769.54 1744.58 L1779.34 1737.47 L1789.13 1744.58 L1785.39 1733.07 L1795.19 1725.95 L1783.08 1725.95ZM1788.1 1929.43 L1784.36 1940.95 L1772.25 1940.95 L1782.05 1948.07 L1778.31 1959.58 L1788.1 1952.47 L1797.9 1959.58 L1794.16 1948.07 L1803.96 1940.95 L1791.85 1940.95ZM1796.67 1708.63 L1792.93 1720.15 L1780.82 1720.15 L1790.62 1727.27 L1786.88 1738.78 L1796.67 1731.67 L1806.47 1738.78 L1802.73 1727.27 L1812.52 1720.15 L1800.41 1720.15ZM1805.05 1866.03 L1801.31 1877.55 L1789.2 1877.55 L1798.99 1884.67 L1795.25 1896.18 L1805.05 1889.07 L1814.85 1896.18 L1811.1 1884.67 L1820.9 1877.55 L1808.79 1877.55ZM1813.24 1424.63 L1809.5 1436.15 L1797.39 1436.15 L1807.19 1443.27 L1803.45 1454.78 L1813.24 1447.67 L1823.04 1454.78 L1819.3 1443.27 L1829.1 1436.15 L1816.99 1436.15ZM1821.26 1537.43 L1817.52 1548.95 L1805.41 1548.95 L1815.21 1556.07 L1811.47 1567.58 L1821.26 1560.47 L1831.06 1567.58 L1827.32 1556.07 L1837.12 1548.95 L1825.01 1548.95ZM1829.12 1295.53 L1825.38 1307.05 L1813.27 1307.05 L1823.06 1314.17 L1819.32 1325.68 L1829.12 1318.57 L1838.91 1325.68 L1835.17 1314.17 L1844.97 1307.05 L1832.86 1307.05ZM1844.35 1646.33 L1840.61 1657.85 L1828.5 1657.85 L1838.3 1664.97 L1834.55 1676.48 L1844.35 1669.37 L1854.15 1676.48 L1850.41 1664.97 L1860.2 1657.85 L1848.09 1657.85ZM1851.74 1557.73 L1848 1569.25 L1835.89 1569.25 L1845.69 1576.37 L1841.95 1587.88 L1851.74 1580.77 L1861.54 1587.88 L1857.8 1576.37 L1867.59 1569.25 L1855.48 1569.25Z" fill="#9467bd" stroke="#9467bd" stroke-width="4.167" stroke-linejoin="bevel"/>
</g>

<rect x="213.1" y="119.3" width="1627.75" height="1143.7" fill="none" stroke="#000" stroke-width="3.45"/><rect x="213.1" y="1285.8" width="1627.75" height="1143.75" fill="none" stroke="#000" stroke-width="3.45"/>
<g>
<text x="346.41" y="96.3" font-size="41.67" text-anchor="middle">500</text><text x="538.97" y="96.3" font-size="41.67" text-anchor="middle">300</text><text x="691.81" y="96.3" font-size="41.67" text-anchor="middle">200</text><text x="953.1" y="96.3" font-size="41.67" text-anchor="middle">100</text><text x="1214.39" y="96.3" font-size="41.67" text-anchor="middle">50</text><text x="1406.94" y="96.3" font-size="41.67" text-anchor="middle">30</text><text x="1559.79" y="96.3" font-size="41.67" text-anchor="middle">20</text><text x="1821.07" y="96.3" font-size="41.67" text-anchor="middle">10</text>
<text x="198.5" y="1206.63" font-size="41.67" text-anchor="end">−100</text><text x="198.5" y="1063.68" font-size="41.67" text-anchor="end">0</text><text x="198.5" y="920.73" font-size="41.67" text-anchor="end">100</text><text x="198.5" y="777.78" font-size="41.67" text-anchor="end">200</text><text x="198.5" y="634.83" font-size="41.67" text-anchor="end">300</text><text x="198.5" y="491.88" font-size="41.67" text-anchor="end">400</text><text x="198.5" y="348.93" font-size="41.67" text-anchor="end">500</text><text x="198.5" y="205.97" font-size="41.67" text-anchor="end">600</text>
<text x="198.5" y="2444.5" font-size="41.67" text-anchor="end">−150</text><text x="198.5" y="2215.8" font-size="41.67" text-anchor="end">−100</text><text x="198.5" y="1987.1" font-size="41.67" text-anchor="end">−50</text><text x="198.5" y="1758.4" font-size="41.67" text-anchor="end">0</text><text x="198.5" y="1529.7" font-size="41.67" text-anchor="end">50</text><text x="198.5" y="1301" font-size="41.67" text-anchor="end">100</text>
<text x="782.59" y="2476.5" font-size="41.67">10<tspan font-size="29.17" dy="-16" dx="1.5">1</tspan></text><text x="1650.56" y="2476.5" font-size="41.67">10<tspan font-size="29.17" dy="-16" dx="1.5">2</tspan></text>
</g>
<text x="1026.85" y="47.5" font-size="62.5" text-anchor="middle">Physical scale [kpc]</text>
<text x="1026.85" y="2550" font-size="62.5" text-anchor="middle">uv distance [k<tspan font-style="italic">λ</tspan>]</text>
<text transform="translate(47.8 843.7) rotate(-90)" font-size="62.5">Real [<tspan font-style="italic">μ</tspan>Jy]</text>
<text transform="translate(47.8 2010.5) rotate(-90)" font-size="62.5">Real [<tspan font-style="italic">μ</tspan>Jy]</text>
<text x="1788.7" y="220.3" font-size="83.33" text-anchor="end">Original</text>
<text x="1820.1" y="1377.3" font-size="83.33" text-anchor="end">Subtracted</text>
<text x="258.1" y="1406.2" font-size="62.5">2×R<tspan font-size="43.75" dy="9.5">200</tspan></text><path d="M483.6 1377H601.72" stroke="#000" stroke-width="4.167" fill="none" stroke-linecap="round"/><path d="M585.05 1368.67L601.72 1377L585.05 1385.33" stroke="#000" stroke-width="4.167" fill="none" stroke-linecap="round" stroke-linejoin="round"/>
<text x="879.3" y="2339.1" font-size="62.5">2×R<tspan font-size="43.75" dy="9.5">500</tspan></text><path d="M880.3 2324.4H792.88" stroke="#000" stroke-width="4.167" fill="none" stroke-linecap="round"/><path d="M809.55 2316.07L792.88 2324.4L809.55 2332.73" stroke="#000" stroke-width="4.167" fill="none" stroke-linecap="round" stroke-linejoin="round"/>
<g>
<rect x="1229.8" y="2104.1" width="581" height="294.7" rx="10" ry="10" fill="#fff" fill-opacity="0.8" stroke="#ccc" stroke-opacity="0.8" stroke-width="4.167"/>
<path d="M1317.2 2124.3V2186.3" stroke="#1f77b4" stroke-width="6.25" fill="none"/><path d="M1310.95 2124.3h12.5M1310.95 2186.3h12.5" stroke="#1f77b4" stroke-width="4.167" fill="none"/><circle cx="1317.2" cy="2155.3" r="8.33" fill="#1f77b4"/><text x="1431" y="2176.2" font-size="62.5" text-anchor="start">ACA</text>
<path d="M1317.2 2216.6V2278.6" stroke="#d62728" stroke-width="6.25" fill="none"/><path d="M1310.95 2216.6h12.5M1310.95 2278.6h12.5" stroke="#d62728" stroke-width="4.167" fill="none"/><circle cx="1317.2" cy="2247.6" r="8.33" fill="#d62728"/><text x="1431" y="2268.5" font-size="62.5" text-anchor="start">ALMA</text>
<path d="M1317.2 2308.9V2370.9" stroke="#9467bd" stroke-width="6.25" fill="none"/><path d="M1308.87 2308.9h16.67M1308.87 2370.9h16.67" stroke="#9467bd" stroke-width="4.167" fill="none"/><path d="M1317.2 2323.23 L1313.46 2334.75 L1301.35 2334.75 L1311.15 2341.87 L1307.4 2353.38 L1317.2 2346.27 L1327 2353.38 L1323.25 2341.87 L1333.05 2334.75 L1320.94 2334.75Z" fill="#9467bd" stroke="#9467bd" stroke-width="4.167" stroke-linejoin="bevel"/><text x="1431" y="2360.8" font-size="62.5" text-anchor="start">ACA+ALMA</text>
</g>
</svg>
</body></html>
